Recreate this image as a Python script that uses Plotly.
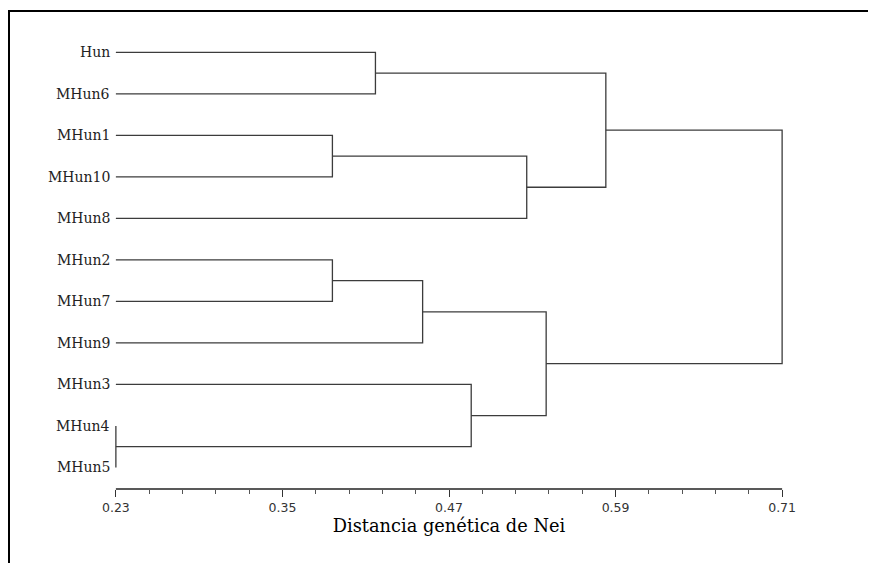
import plotly.graph_objects as go

# ---- data ----
leaves = ["Hun", "MHun6", "MHun1", "MHun10", "MHun8", "MHun2", "MHun7",
          "MHun9", "MHun3", "MHun4", "MHun5"]
# merges: (left child, right child, height); leaf ids 0..10, clusters 11+
merge_left = [9, 2, 5, 0, 13, 8, 12, 15, 14, 19]
merge_right = [10, 3, 6, 1, 7, 11, 4, 16, 17, 18]
merge_height = [0.23, 0.386, 0.386, 0.417, 0.451, 0.486, 0.526, 0.540, 0.583, 0.71]
tick_vals = [0.23, 0.35, 0.47, 0.59, 0.71]
tick_text = ["0.23", "0.35", "0.47", "0.59", "0.71"]
x_title = "Distancia genética de Nei"

W, H = 876, 563
OFF = 7  # page offset compensation
ML, MR, MT, MB = 101 - OFF, 81 + OFF, 30 - OFF, 75 + OFF
leaf_x = 0.23

n = len(leaves)
node_x = {i: leaf_x for i in range(n)}
node_y = {i: float(i) for i in range(n)}

xs, ys = [], []
for k, (a, b, h) in enumerate(zip(merge_left, merge_right, merge_height)):
    cid = n + k
    xs += [node_x[a], h, h, node_x[b], None]
    ys += [node_y[a], node_y[a], node_y[b], node_y[b], None]
    node_x[cid] = h
    node_y[cid] = (node_y[a] + node_y[b]) / 2

fig = go.Figure()
fig.add_trace(go.Scatter(x=xs, y=ys, mode="lines",
                         line=dict(color="#3c3c3c", width=1.3),
                         hoverinfo="skip", showlegend=False))

for i, name in enumerate(leaves):
    fig.add_annotation(x=leaf_x, y=i, text=name, showarrow=False,
                       xanchor="right", yanchor="middle", xshift=-4,
                       font=dict(family="DejaVu Serif", size=14, color="#222222"))

plot_h = H - MT - MB
plot_w = W - ML - MR
fig.update_layout(
    width=W, height=H,
    margin=dict(l=ML, r=MR, t=MT, b=MB),
    paper_bgcolor="white", plot_bgcolor="white",
    showlegend=False,
    xaxis=dict(range=[0.22, 0.72], showgrid=False, zeroline=False, showline=False,
               tickmode="array", tickvals=tick_vals, ticktext=tick_text,
               ticks="outside", ticklen=7, tickwidth=1, tickcolor="#333333",
               tickfont=dict(family="DejaVu Sans", size=12.5, color="#333333"),
               minor=dict(tickmode="linear", tick0=0.23, dtick=0.024,
                          ticks="outside", ticklen=4, tickwidth=1, tickcolor="#555555"),
               title=dict(text=x_title, standoff=3,
                          font=dict(family="DejaVu Serif", size=17.8, color="#000000"))),
    yaxis=dict(range=[10.52, -0.515], showgrid=False, zeroline=False,
               showline=False, showticklabels=False, ticks=""),
)

# axis baseline from 0.23 to 0.71
fig.add_shape(type="line", xref="x", yref="paper", x0=0.23, x1=0.71, y0=0, y1=0,
              line=dict(color="#222222", width=1.3))

# outer frame (left/top visible)
def px_to_paper_x(px):
    return (px - ML) / plot_w

def px_to_paper_y(py):
    return 1 - (py - MT) / plot_h

fig.add_shape(type="rect", xref="paper", yref="paper",
              x0=px_to_paper_x(8 - OFF), x1=px_to_paper_x(W + 20),
              y0=px_to_paper_y(H + 20), y1=px_to_paper_y(10 - OFF),
              line=dict(color="black", width=2), fillcolor="rgba(0,0,0,0)", layer="above")

fig.write_html("out.html")
